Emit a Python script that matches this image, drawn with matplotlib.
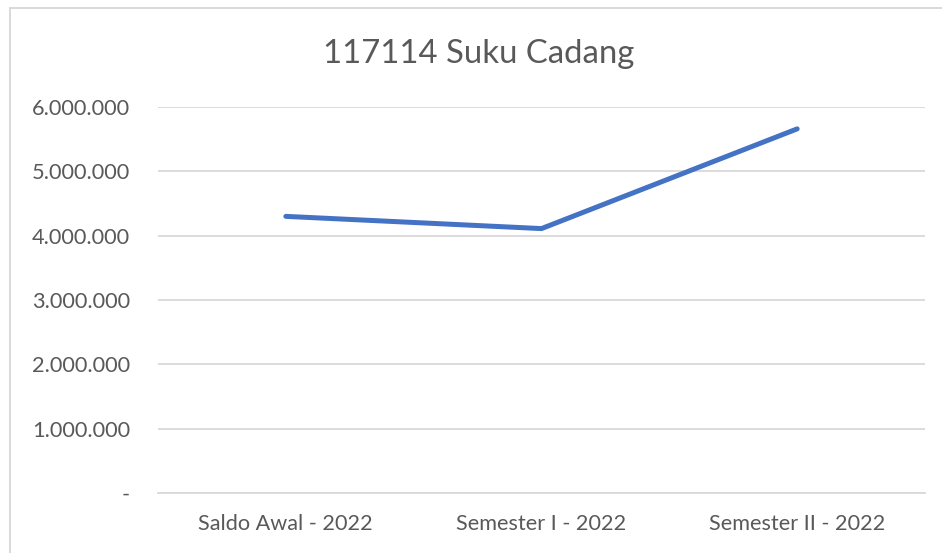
import matplotlib
matplotlib.use("Agg")
import matplotlib.pyplot as plt
from matplotlib.patches import Rectangle
from matplotlib.textpath import TextPath
from matplotlib.font_manager import FontProperties

categories = ["Saldo Awal - 2022", "Semester I - 2022", "Semester II - 2022"]
values = [4300000, 4110000, 5660000]
yticks = [0, 1000000, 2000000, 3000000, 4000000, 5000000, 6000000]
ytick_labels = ["-", "1.000.000", "2.000.000", "3.000.000", "4.000.000", "5.000.000", "6.000.000"]
title = "117114 Suku Cadang"

FAMILY = "Lato"
plt.rcParams['font.family'] = [FAMILY, 'DejaVu Sans']
txt = "#595959"
DPI = 100


def fit_size(text, target_px):
    # font size (pt) so the rendered text is about target_px wide
    w = TextPath((0, 0), text, size=100, prop=FontProperties(family=FAMILY)).get_extents().width
    w_px = w / 72 * DPI  # width in px for 100pt text
    return 100 * target_px / w_px


xsize = fit_size(categories[0], 172)
ysize = fit_size(ytick_labels[-1], 97)
tsize = fit_size(title, 308)

fig = plt.figure(figsize=(9.42, 5.53), dpi=DPI)
fig.patches.append(Rectangle((10/942, -0.01), 1.0, 1 - 8/553 + 0.01, transform=fig.transFigure,
                             fill=False, edgecolor="#D9D9D9", linewidth=1.4))
ax = fig.add_axes([158/942, 1 - 493/553, (925 - 158)/942, (493 - 107)/553])

x = list(range(len(categories)))
ax.plot(x, values, color="#4472C4", linewidth=3.6, solid_capstyle="round")
ax.set_xlim(-0.5, len(categories) - 0.5)
ax.set_ylim(0, 6000000)
ax.set_yticks(yticks)
ax.set_yticklabels(ytick_labels)
ax.set_xticks(x)
ax.set_xticklabels(categories)
ax.grid(axis="y", color="#D9D9D9", linewidth=1.3)
ax.set_axisbelow(True)
for s in ["top", "right", "left"]:
    ax.spines[s].set_visible(False)
ax.spines["bottom"].set_color("#D9D9D9")
ax.spines["bottom"].set_linewidth(1.3)
ax.tick_params(axis="y", length=0, labelsize=ysize, colors=txt, pad=(158 - 130) * 72 / DPI)
ax.tick_params(axis="x", length=0, labelsize=xsize, colors=txt, pad=(514 - 493) * 72 / DPI)
fig.text(479/942, 1 - 63/553, title, ha="center", va="baseline", fontsize=tsize, color=txt)

fig.savefig("out.png", dpi=DPI)
